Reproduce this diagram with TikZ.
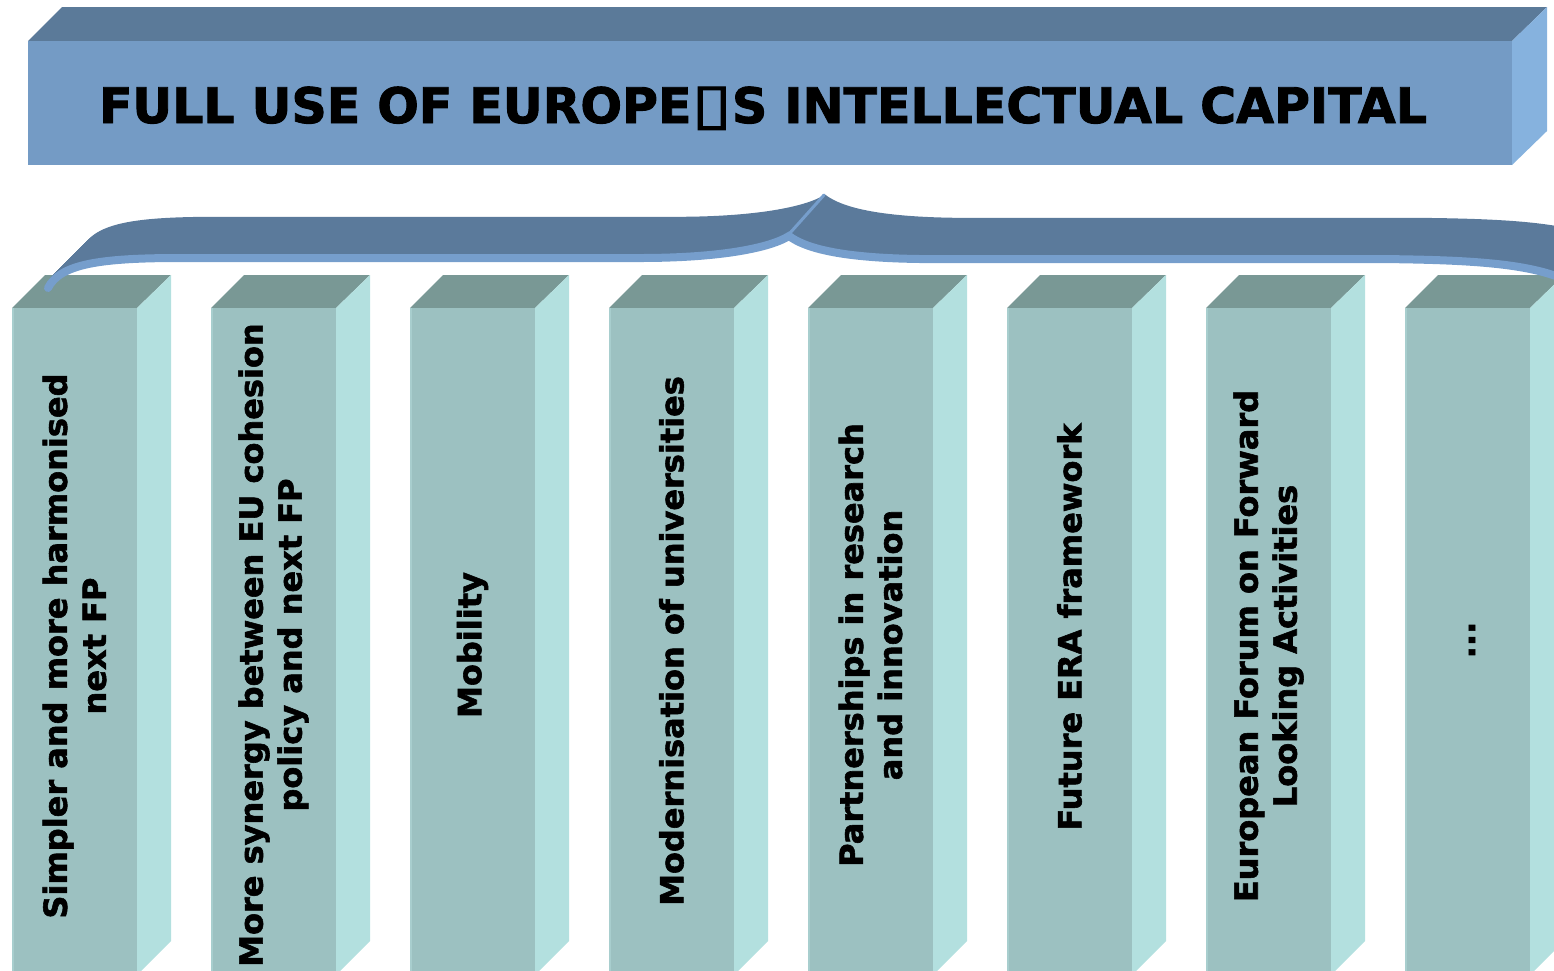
\documentclass[tikz,border=0pt]{standalone}
\usepackage{fontspec}
\setmainfont{DejaVu Sans}[BoldFeatures={FakeBold=1.8}]
\definecolor{ttop}{RGB}{91,122,153}
\definecolor{tfront}{RGB}{116,155,197}
\definecolor{tside}{RGB}{134,178,222}
\definecolor{ctop}{RGB}{121,152,149}
\definecolor{cfront}{RGB}{156,193,193}
\definecolor{cside}{RGB}{179,224,223}
\definecolor{cedge}{RGB}{168,206,206}
\definecolor{bdark}{RGB}{91,122,155}
\definecolor{blight}{RGB}{118,158,204}
\tikzset{
  coltext/.style={rotate=90, align=center, inner sep=0pt,
    font=\fontsize{32}{39}\selectfont\bfseries},
  titletext/.style={anchor=base, inner sep=0pt,
    font=\fontsize{49}{60}\selectfont\bfseries}
}
\def\bracepath{(48,292) .. controls (60,268) and (100,262) .. (180,262) -- (640,262) .. controls (720,262) and (770,252) .. (789,240) .. controls (805,252) and (840,262) .. (920,263) -- (1380,263) .. controls (1480,264) and (1545,268) .. (1580,292)}
\begin{document}
\begin{tikzpicture}[x=1pt,y=-1pt]
\useasboundingbox (0,0) rectangle (1554,970);
\clip (0,0) rectangle (1554,970);
% title box
\fill[ttop] (28,41) -- (62,7) -- (1547,7) -- (1512,41) -- cycle;
\fill[tside] (1512,41) -- (1547,7) -- (1547,131) -- (1512,165) -- cycle;
\fill[tfront] (28,41) rectangle (1512,165);
\node[titletext] (title) at (763,123) {FULL USE OF EUROPE\scalebox{1.5}[1.15]{▯}S INTELLECTUAL CAPITAL};
% columns
\foreach \i in {0,...,7}{
  \pgfmathsetmacro{\x}{12+199*\i}
  \fill[ctop] (\x,308) -- ({\x+33},275) -- ({\x+159},275) -- ({\x+125},308) -- cycle;
  \fill[cside] ({\x+125},308) -- ({\x+159},275) -- ({\x+159},941) -- ({\x+125},975) -- cycle;
  \fill[cfront] (\x,308) rectangle ({\x+125},985);
  \draw[cedge, line width=1.5] ({\x+1},308) -- ({\x+1},985);
}
\node[coltext] (c1) at (74.5,646) {Simpler and more harmonised\\next FP};
\node[coltext] (c2) at (273.5,645) {More synergy between EU cohesion\\policy and next FP};
\node[coltext] (c3) at (472.5,645) {Mobility};
\node[coltext] (c4) at (671.5,641) {Modernisation of universities};
\node[coltext] (c5) at (870.5,645) {Partnerships in research\\and innovation};
\node[coltext] (c6) at (1069.5,627) {Future ERA framework};
\node[coltext] (c7) at (1268.5,646) {European Forum on Forward\\Looking Activities};
\node[coltext] (c8) at (1472,640) {...};
% brace
\foreach \k in {0,...,40}{
  \draw[bdark, line width=2.4] [shift={({\k*0.9},{-8-\k*0.9})}] \bracepath;
}
\draw[blight, line width=8, line cap=round] [shift={(0,-4)}] \bracepath;
\draw[blight, line width=3, line cap=round] (790,233) -- (824,195);
\end{tikzpicture}
\end{document}
